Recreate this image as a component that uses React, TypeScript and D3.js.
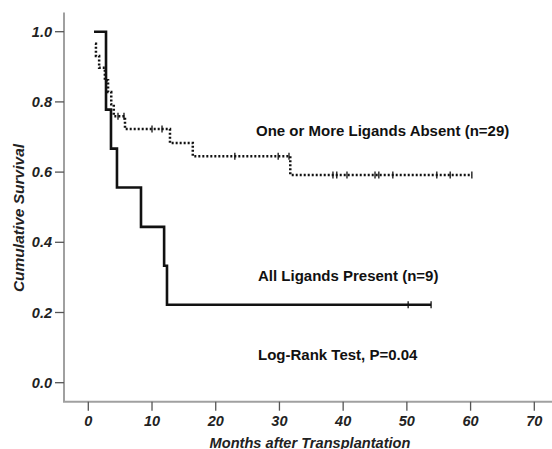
import React from "react";
import * as d3 from "d3";

const W = 552;
const H = 449;

const xTicks = [0, 10, 20, 30, 40, 50, 60, 70];
const yTicks = [0.0, 0.2, 0.4, 0.6, 0.8, 1.0];

// All Ligands Present (n=9): step points [time, survival]
const presentTimes = [0.9, 2.78, 3.56, 4.5, 8.27, 11.9, 12.35, 53.8];
const presentSurv = [1.0, 0.778, 0.667, 0.556, 0.444, 0.333, 0.222, 0.222];
const presentCensor = [50.2, 53.8];

// One or More Ligands Absent (n=29)
const absentTimes = [1.05, 1.2, 1.7, 2.6, 3.1, 3.6, 4.0, 5.76, 12.82, 16.4, 31.7, 60.2];
const absentSurv = [0.966, 0.931, 0.897, 0.862, 0.828, 0.793, 0.759, 0.723, 0.683, 0.645, 0.592, 0.592];
const absentCensor = [4.66, 5.6, 10.0, 11.57, 23.0, 29.8, 31.5, 38.4, 39.0, 40.6, 45.0, 45.6, 47.8, 54.7, 56.8, 60.2];

const labelAbsent = "One or More Ligands Absent (n=29)";
const labelPresent = "All Ligands Present (n=9)";
const labelTest = "Log-Rank Test, P=0.04";
const xTitle = "Months after Transplantation";
const yTitle = "Cumulative Survival";

const x = d3.scaleLinear().domain([0, 70]).range([88.3, 534.3]);
const y = d3.scaleLinear().domain([0, 1]).range([382.7, 31.7]);

const stepLine = d3
  .line<[number, number]>()
  .x((d) => x(d[0]))
  .y((d) => y(d[1]))
  .curve(d3.curveStepAfter);

function survAt(times: number[], surv: number[], t: number) {
  let s = surv[0];
  for (let i = 0; i < times.length; i++) {
    if (times[i] <= t) s = surv[i];
  }
  return s;
}

const axisLeftX = 64;
const axisBottomY = 401.7;
const axisColor = "#a0a0a0";
const font = "'Liberation Sans', Arial, sans-serif";

export default function App() {
  const presentPts = presentTimes.map((t, i) => [t, presentSurv[i]] as [number, number]);
  const absentPts = absentTimes.map((t, i) => [t, absentSurv[i]] as [number, number]);

  return (
    <svg
      width={W}
      height={H}
      style={{ position: "absolute", left: 0, top: 0, background: "#fff" }}
    >
      <rect x={0} y={0} width={W} height={H} fill="#fff" />
      {/* axes */}
      <line x1={axisLeftX} y1={12.5} x2={axisLeftX} y2={axisBottomY} stroke={axisColor} strokeWidth={2} />
      <line x1={axisLeftX - 1} y1={axisBottomY} x2={W} y2={axisBottomY} stroke={axisColor} strokeWidth={2} />
      {yTicks.map((v) => (
        <g key={"y" + v}>
          <line x1={axisLeftX - 9} x2={axisLeftX} y1={y(v)} y2={y(v)} stroke="#555" strokeWidth={1.3} />
          <text
            x={52}
            y={y(v)}
            dy="0.35em"
            textAnchor="end"
            fontFamily={font}
            fontWeight="bold"
            fontStyle="italic"
            fontSize={14.5}
            fill="#222"
          >
            {v.toFixed(1)}
          </text>
        </g>
      ))}
      {xTicks.map((v) => (
        <g key={"x" + v}>
          <line x1={x(v)} x2={x(v)} y1={axisBottomY} y2={axisBottomY + 9} stroke="#555" strokeWidth={1.3} />
          <text
            x={x(v)}
            y={420.5}
            dy="0.35em"
            textAnchor="middle"
            fontFamily={font}
            fontWeight="bold"
            fontStyle="italic"
            fontSize={14.5}
            fill="#222"
          >
            {v}
          </text>
        </g>
      ))}
      <text
        x={310}
        y={447.5}
        textAnchor="middle"
        fontFamily={font}
        fontWeight="bold"
        fontStyle="italic"
        fontSize={14.6}
        fill="#222"
      >
        {xTitle}
      </text>
      <text
        transform={`translate(24,218) rotate(-90)`}
        textAnchor="middle"
        fontFamily={font}
        fontWeight="bold"
        fontStyle="italic"
        fontSize={15.5}
        fill="#222"
      >
        {yTitle}
      </text>

      {/* curves */}
      <path d={stepLine(absentPts) || ""} fill="none" stroke="#111" strokeWidth={2.5} strokeDasharray="2,2" />
      <path d={stepLine(presentPts) || ""} fill="none" stroke="#111" strokeWidth={2.6} />
      {absentCensor.map((t, i) => (
        <line
          key={"ac" + i}
          x1={x(t)}
          x2={x(t)}
          y1={y(survAt(absentTimes, absentSurv, t)) - 3.5}
          y2={y(survAt(absentTimes, absentSurv, t)) + 3.5}
          stroke="#111"
          strokeWidth={1.3}
        />
      ))}
      {presentCensor.map((t, i) => (
        <line
          key={"pc" + i}
          x1={x(t)}
          x2={x(t)}
          y1={y(survAt(presentTimes, presentSurv, t)) - 3.5}
          y2={y(survAt(presentTimes, presentSurv, t)) + 3.5}
          stroke="#111"
          strokeWidth={1.3}
        />
      ))}

      {/* annotations */}
      <text x={256} y={136} fontFamily={font} fontWeight="bold" fontSize={15} fill="#111">
        {labelAbsent}
      </text>
      <text x={258} y={281} fontFamily={font} fontWeight="bold" fontSize={15} fill="#111">
        {labelPresent}
      </text>
      <text x={258} y={360} fontFamily={font} fontWeight="bold" fontSize={15} fill="#111">
        {labelTest}
      </text>
    </svg>
  );
}
